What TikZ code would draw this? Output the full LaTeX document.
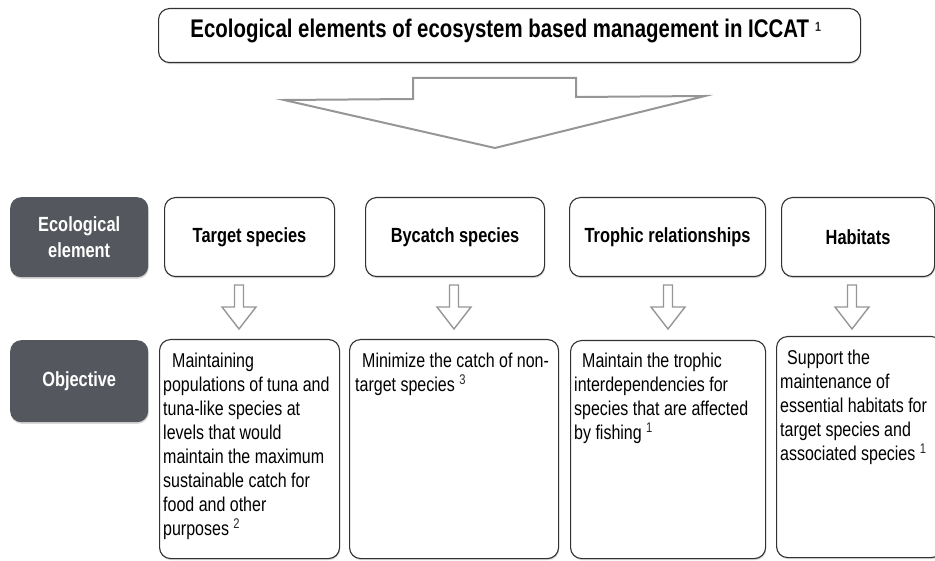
\documentclass[tikz,border=0pt]{standalone}
\usepackage{fontspec}
\setmainfont{Liberation Sans}[FakeStretch=0.8]
\usetikzlibrary{shadows}
\definecolor{darkfill}{RGB}{84,87,93}
\definecolor{edgecol}{RGB}{50,50,50}
\definecolor{arrowgray}{RGB}{150,150,150}
\definecolor{supcol}{RGB}{40,40,40}
\newcommand{\sups}[1]{{\color{supcol}\textsuperscript{#1}}}
\begin{document}
\begin{tikzpicture}[x=1pt,y=-1pt,
  shadowed/.style={drop shadow={opacity=0.3, shadow xshift=0.6pt, shadow yshift=-1.6pt}},
  whitebox/.style={draw=edgecol, line width=1.1pt, rounded corners=11pt, fill=white, shadowed, inner sep=0pt, anchor=north west},
  darkbox/.style={fill=darkfill, rounded corners=11pt, text=white, align=center, inner sep=0pt, anchor=north west, shadowed, font=\bfseries\fontsize{20.5}{26}\selectfont},
  headtext/.style={font=\bfseries\fontsize{20.5}{24}\selectfont},
  bodytext/.style={font=\fontsize{20}{24}\selectfont, align=left, anchor=north west, inner sep=0pt},
  hollow/.style={draw=arrowgray, line width=1.4pt, line join=miter, fill=white}
]
\useasboundingbox (0,0) rectangle (935,561);

% title
\node[whitebox, minimum width=702pt, minimum height=54pt] (title) at (158,8) {};
\node[anchor=base, inner sep=0pt, font=\bfseries\fontsize{25.5}{28}\selectfont] (titletext) at (506,38)
  {Ecological elements of ecosystem based management in ICCAT\hspace{6pt}{\fontsize{19}{20}\selectfont\sups{1}}};

% big hollow arrow
\coordinate (bw1) at (284,100);
\coordinate (bs1) at (413,99);
\coordinate (bs2) at (413,78);
\coordinate (bs3) at (576,78);
\coordinate (bs4) at (576,97);
\coordinate (bw2) at (705,96);
\coordinate (btip) at (495,148);
\draw[hollow, line width=2pt] (bw1) -- (bs1) -- (bs2) -- (bs3) -- (bs4) -- (bw2) -- (btip) -- cycle;

% row 1
\node[darkbox, minimum width=138pt, minimum height=80pt] (ecoel) at (10,197) {Ecological\\element};
\node[whitebox, headtext, minimum width=170pt, minimum height=79pt] (target) at (164,197) {Target species};
\node[whitebox, headtext, minimum width=179pt, minimum height=79pt] (bycatch) at (365,197) {Bycatch species};
\node[whitebox, headtext, minimum width=196pt, minimum height=79pt] (trophic) at (569,197) {Trophic relationships};
\node[whitebox, headtext, minimum width=153pt, minimum height=79pt] (habitat) at (781,197) {Habitats};

% small hollow arrows
\foreach \cx in {239,454,668,852}{
  \draw[hollow] (\cx-4.5,285) -- (\cx+4.5,285) -- (\cx+4.5,307) -- (\cx+17,307) -- (\cx,329) -- (\cx-17,307) -- (\cx-4.5,307) -- cycle;
}

% row 2
\node[darkbox, minimum width=138pt, minimum height=82pt] (objective) at (10,340) {Objective};
\node[whitebox, minimum width=180pt, minimum height=219pt] (obj1) at (159,339) {};
\node[whitebox, minimum width=209pt, minimum height=219pt] (obj2) at (349,339) {};
\node[whitebox, minimum width=195pt, minimum height=218pt] (obj3) at (570,340) {};
\node[whitebox, minimum width=166pt, minimum height=221pt] (obj4) at (776,336) {};

\node[bodytext] (txt1) at (163,353) {\hspace{9pt}Maintaining\\populations of tuna and\\tuna-like species at\\levels that would\\maintain the maximum\\sustainable catch for\\food and other\\purposes \sups{2}};
\node[bodytext] (txt2) at (355,353) {\hspace{7pt}Minimize the catch of non-\\target species \sups{3}};
\node[bodytext] (txt3) at (574,353) {\hspace{8pt}Maintain the trophic\\interdependencies for\\species that are affected\\by fishing \sups{1}};
\node[bodytext] (txt4) at (780,350) {\hspace{7pt}Support the\\maintenance of\\essential habitats for\\target species and\\associated species \sups{1}};
\end{tikzpicture}
\end{document}
